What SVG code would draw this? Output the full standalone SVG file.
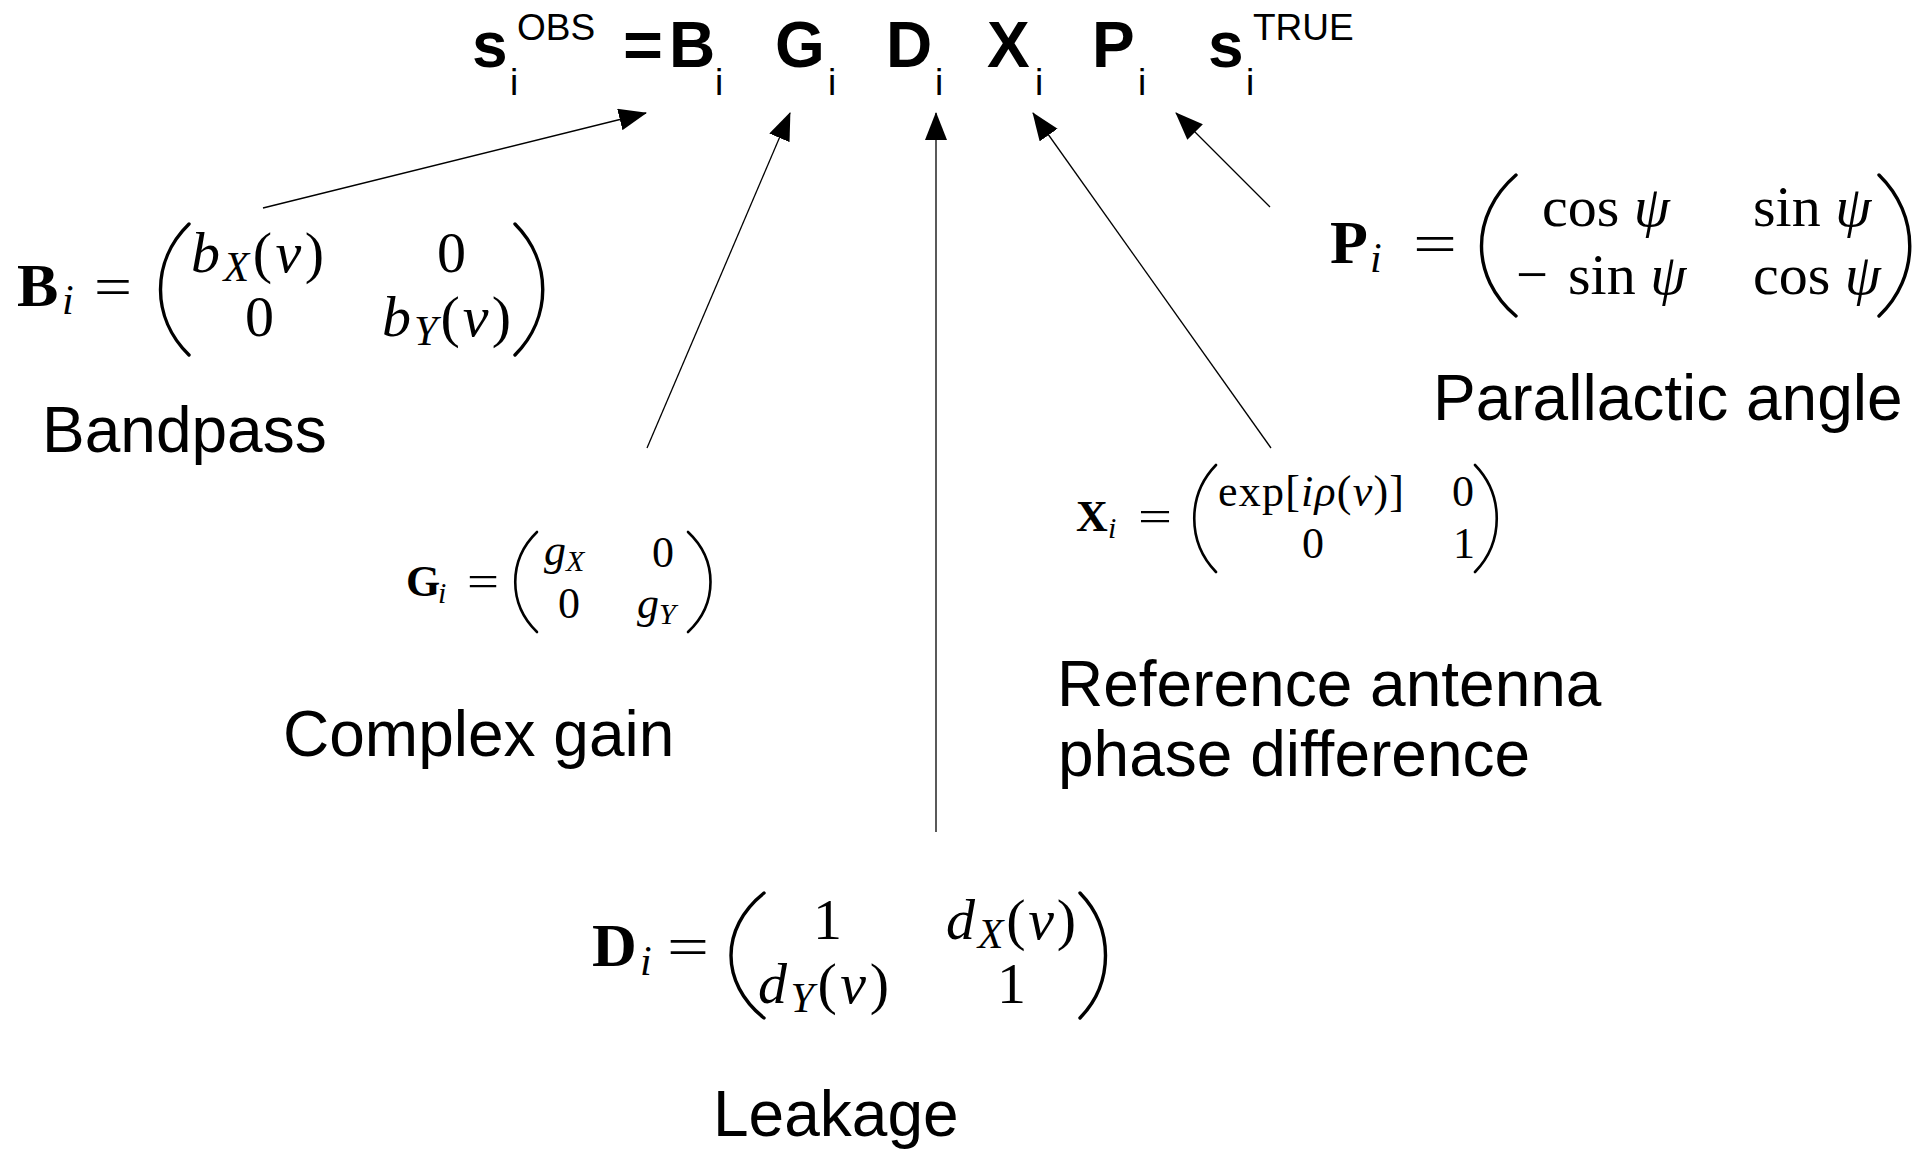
<svg xmlns="http://www.w3.org/2000/svg" width="1918" height="1149" viewBox="0 0 1918 1149">
<style>
.lab{font-family:"Liberation Sans",Arial,sans-serif;font-size:64px;fill:#000}
.big{font-family:"Liberation Sans",Arial,sans-serif;font-weight:bold;font-size:64px;fill:#000}
.sm{font-family:"Liberation Sans",Arial,sans-serif;font-size:37px;fill:#000}
.m{font-family:"Liberation Serif","Times New Roman",serif;fill:#000}
.it{font-style:italic}
.bf{font-weight:bold}
.par{fill:none;stroke:#000;stroke-width:3.4;stroke-linecap:round}
.parS{fill:none;stroke:#000;stroke-width:2.6;stroke-linecap:round}
.conn line{stroke:#000;stroke-width:1.3;marker-end:url(#ah)}
</style>
<defs>
<marker id="ah" markerUnits="userSpaceOnUse" viewBox="0 0 28 22" markerWidth="28" markerHeight="22" refX="27" refY="11" orient="auto">
<path d="M0,0 L28,11 L0,22 z" fill="#000"/>
</marker>
</defs>
<rect width="1918" height="1149" fill="#fff"/>

<g id="equation">
<text class="big" x="472" y="67">s</text>
<text class="sm" x="510" y="95">i</text>
<text class="sm" x="517" y="40">OBS</text>
<text class="big" x="623" y="67" textLength="40" lengthAdjust="spacingAndGlyphs">=</text>
<text class="big" x="669" y="67">B</text>
<text class="sm" x="715" y="95">i</text>
<text class="big" x="775" y="67">G</text>
<text class="sm" x="828" y="95">i</text>
<text class="big" x="886" y="67">D</text>
<text class="sm" x="935" y="95">i</text>
<text class="big" x="987" y="67">X</text>
<text class="sm" x="1035" y="95">i</text>
<text class="big" x="1092" y="67">P</text>
<text class="sm" x="1138" y="95">i</text>
<text class="big" x="1208" y="67">s</text>
<text class="sm" x="1246" y="95">i</text>
<text class="sm" x="1253" y="40">TRUE</text>
</g>

<g class="conn" id="connectors">
<line x1="263" y1="208" x2="646" y2="113"/>
<line x1="647" y1="448" x2="790" y2="113"/>
<line x1="936" y1="832" x2="936" y2="113"/>
<line x1="1271" y1="448" x2="1033" y2="113"/>
<line x1="1270" y1="207" x2="1176" y2="113"/>
</g>

<g id="bandpass">
<text class="m bf" x="17" y="306" font-size="62">B</text>
<text class="m it" x="62" y="314" font-size="42">i</text>
<text class="m" x="94" y="306" font-size="58" textLength="38" lengthAdjust="spacingAndGlyphs">=</text>
<path class="par" d="M189,224 C151,261 151,318 189,355"/>
<text class="m" x="191" y="272" font-size="58" textLength="133" lengthAdjust="spacing"><tspan class="it">b</tspan><tspan class="it" font-size="42" dy="9">X</tspan><tspan dy="-9">(</tspan><tspan class="it">ν</tspan>)</text>
<text class="m" x="437" y="272" font-size="58">0</text>
<text class="m" x="245" y="336" font-size="58">0</text>
<text class="m" x="382" y="336" font-size="58" textLength="129" lengthAdjust="spacing"><tspan class="it">b</tspan><tspan class="it" font-size="42" dy="9">Y</tspan><tspan dy="-9">(</tspan><tspan class="it">ν</tspan>)</text>
<path class="par" d="M515,224 C552,261 552,318 515,355"/>
<text class="lab" x="42" y="452">Bandpass</text>
</g>

<g id="gain">
<text class="m bf" x="406" y="596" font-size="44">G</text>
<text class="m it" x="438" y="603" font-size="30">i</text>
<text class="m" x="467" y="596" font-size="44" textLength="32" lengthAdjust="spacingAndGlyphs">=</text>
<path class="parS" d="M537,532 C508,560 508,604 537,632"/>
<text class="m" x="544" y="565" font-size="44"><tspan class="it">g</tspan><tspan class="it" font-size="30" dy="6">X</tspan></text>
<text class="m" x="652" y="567" font-size="44">0</text>
<text class="m" x="558" y="618" font-size="44">0</text>
<text class="m" x="637" y="618" font-size="44"><tspan class="it">g</tspan><tspan class="it" font-size="30" dy="6">Y</tspan></text>
<path class="parS" d="M688,532 C718,560 718,604 688,632"/>
<text class="lab" x="283" y="756">Complex gain</text>
</g>

<g id="leakage">
<text class="m bf" x="592" y="966" font-size="62">D</text>
<text class="m it" x="640" y="975" font-size="42">i</text>
<text class="m" x="667" y="966" font-size="58" textLength="42" lengthAdjust="spacingAndGlyphs">=</text>
<path class="par" d="M764,893 C720,928 720,983 764,1018"/>
<text class="m" x="813" y="939" font-size="58">1</text>
<text class="m" x="946" y="939" font-size="58" textLength="130" lengthAdjust="spacing"><tspan class="it">d</tspan><tspan class="it" font-size="42" dy="9">X</tspan><tspan dy="-9">(</tspan><tspan class="it">ν</tspan>)</text>
<text class="m" x="758" y="1003" font-size="58" textLength="131" lengthAdjust="spacing"><tspan class="it">d</tspan><tspan class="it" font-size="42" dy="9">Y</tspan><tspan dy="-9">(</tspan><tspan class="it">ν</tspan>)</text>
<text class="m" x="997" y="1003" font-size="58">1</text>
<path class="par" d="M1080,893 C1114,928 1114,983 1080,1018"/>
<text class="lab" x="713" y="1136">Leakage</text>
</g>

<g id="refphase">
<text class="m bf" x="1076" y="531" font-size="44">X</text>
<text class="m it" x="1108" y="538" font-size="30">i</text>
<text class="m" x="1138" y="531" font-size="44" textLength="34" lengthAdjust="spacingAndGlyphs">=</text>
<path class="parS" d="M1216,465 C1187,495 1187,542 1216,572"/>
<text class="m" x="1218" y="506" font-size="44" textLength="186" lengthAdjust="spacing">exp[<tspan class="it">iρ</tspan>(<tspan class="it">ν</tspan>)]</text>
<text class="m" x="1452" y="506" font-size="44">0</text>
<text class="m" x="1302" y="558" font-size="44">0</text>
<text class="m" x="1453" y="558" font-size="44">1</text>
<path class="parS" d="M1475,465 C1504,495 1504,542 1475,572"/>
<text class="lab" x="1057" y="706">Reference antenna</text>
<text class="lab" x="1058" y="776">phase difference</text>
</g>

<g id="parallactic">
<text class="m bf" x="1330" y="263" font-size="62">P</text>
<text class="m it" x="1370" y="272" font-size="42">i</text>
<text class="m" x="1413" y="263" font-size="58" textLength="44" lengthAdjust="spacingAndGlyphs">=</text>
<path class="par" d="M1516,175 C1470,215 1470,277 1516,316"/>
<text class="m" x="1542" y="226" font-size="58">cos <tspan class="it">ψ</tspan></text>
<text class="m" x="1753" y="226" font-size="58">sin <tspan class="it">ψ</tspan></text>
<text class="m" x="1516" y="294" font-size="58" textLength="32" lengthAdjust="spacingAndGlyphs">−</text>
<text class="m" x="1568" y="294" font-size="58">sin <tspan class="it">ψ</tspan></text>
<text class="m" x="1753" y="294" font-size="58">cos <tspan class="it">ψ</tspan></text>
<path class="par" d="M1879,175 C1920,215 1920,277 1879,316"/>
<text class="lab" x="1433" y="420">Parallactic angle</text>
</g>
</svg>
